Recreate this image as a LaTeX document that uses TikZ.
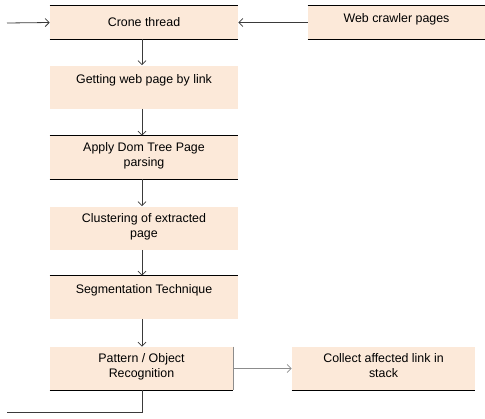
\documentclass[tikz,border=0pt]{standalone}
\usepackage{fontspec}
\setmainfont{Liberation Sans}
\usepackage{tikz}
\usetikzlibrary{arrows.meta, positioning, calc}
\definecolor{mPeach}{HTML}{FCE9D9}
\definecolor{mDark}{HTML}{3A3A3A}
\definecolor{mGray}{HTML}{8C8C8C}

\tikzset{
  box/.style={fill=mPeach, draw=none, inner sep=0pt, minimum width=141pt, minimum height=32.25pt},
  lbl/.style={anchor=north, inner sep=0pt, align=center, font=\fontsize{9.3}{11.2}\selectfont, yshift=-6.5pt},
  rule/.style={draw=black, line width=0.8pt},
  flow/.style={draw=mDark, line width=0.6pt, -{Straight Barb[length=3pt, width=6pt]}}
}

\begin{document}
\begin{tikzpicture}[x=0.75pt, y=-0.75pt]
    \useasboundingbox (0,0) rectangle (485,418);
    % boxes
    \node[box, minimum height=24.75pt] (crone) at (144,22.5) {};
    \node[box, minimum width=132.75pt, minimum height=24.75pt] (web) at (396.5,22.5) {};
    \node[box] (getting) at (144,87) {};
    \node[box] (apply) at (144,157.5) {};
    \node[box] (cluster) at (144,228) {};
    \node[box] (segment) at (144,297.5) {};
    \node[box, minimum width=137.25pt] (pattern) at (141.5,368.5) {};
    \node[box, minimum width=137.25pt] (collect) at (383.5,368.5) {};
    % texts
    \node[font=\fontsize{9.3}{11.2}\selectfont] (crone-t) at (crone.center) {Crone thread};
    \node[lbl, yshift=1pt] (web-t) at (web.north) {Web crawler pages};
    \node[lbl] (getting-t) at (getting.north) {Getting web page by link};
    \node[lbl, yshift=1.5pt] (apply-t) at (apply.north) {Apply Dom Tree Page\\parsing};
    \node[lbl, yshift=1.5pt] (cluster-t) at (cluster.north) {Clustering of extracted\\page};
    \node[lbl] (segment-t) at (segment.north) {Segmentation Technique};
    \node[lbl, yshift=1.5pt] (pattern-t) at (pattern.north) {Pattern / Object\\Recognition};
    \node[lbl, yshift=1.5pt] (collect-t) at (collect.north) {Collect affected link in\\stack};
    % edge rules
    \foreach \b in {crone, web, apply} {
      \draw[rule] (\b.north west) -- (\b.north east);
      \draw[rule] (\b.south west) -- (\b.south east);
    }
    \draw[rule] (segment.north west) -- (segment.north east);
    \draw[rule] (pattern.south west) -- (pattern.south east);
    \draw[rule] (collect.south west) -- (collect.south east);
    \draw[draw=mGray, line width=0.9pt] (pattern.north east) -- (pattern.south east);
    % connectors
    \coordinate (spine) at (142,0);
    \coordinate (in) at (7,23);
    \coordinate (out) at (7,412);
    \draw[flow] (in) -- (crone.west);
    \draw[flow] (web.west) -- (crone.east);
    \foreach \a/\b in {crone/getting, getting/apply, apply/cluster, cluster/segment, segment/pattern}
      \draw[flow] (\a.south -| spine) -- (\b.north -| spine);
    \draw[flow, draw=mGray] (pattern.east) -- (collect.west);
    \draw[draw=mDark, line width=0.6pt] (pattern.south -| spine) |- (out);
  \end{tikzpicture}
\end{document}
